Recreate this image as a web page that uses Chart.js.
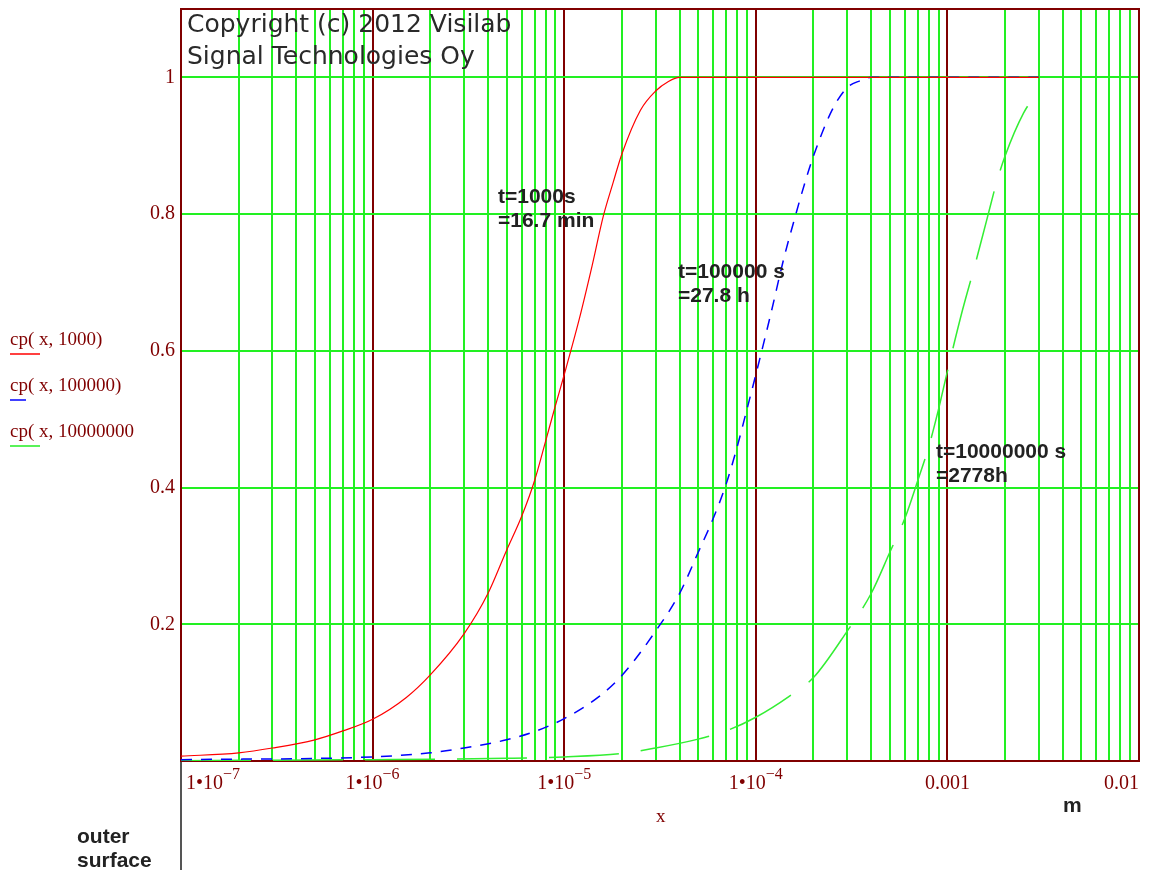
<!DOCTYPE html>
<html>
<head>
<meta charset="utf-8">
<script src="https://cdn.jsdelivr.net/npm/chart.js@4.4.0/dist/chart.umd.min.js"></script>
<style>
html, body { margin: 0; padding: 0; background: #fff; }
#wrap { width: 1150px; height: 870px; position: relative; }
</style>
</head>
<body>
<div id="wrap"><canvas id="mycanvas"></canvas></div>
<script>
// values (x in m, y = cp)
var xRed = [1e-7, 2e-7, 3e-7, 5e-7, 7e-7, 1e-6, 1.5e-6, 2e-6, 3e-6, 4e-6, 5e-6, 6e-6, 7e-6, 8e-6, 9e-6,
            1e-5, 1.2e-5, 1.4e-5, 1.6e-5, 1.8e-5, 2e-5, 2.5e-5, 3e-5, 3.5e-5, 4e-5, 1e-4, 1e-3, 3e-3];
var yRed = [0.007, 0.012, 0.019, 0.031, 0.044, 0.061, 0.093, 0.126, 0.186, 0.245, 0.308, 0.358, 0.410, 0.468, 0.520,
            0.565, 0.647, 0.725, 0.797, 0.846, 0.888, 0.952, 0.980, 0.994, 1.0, 1.0, 1.0, 1.0];

var xBlue = [1e-7, 1e-6, 2e-6, 3e-6, 5e-6, 7e-6, 1e-5, 1.5e-5, 2e-5, 3e-5, 4e-5, 5e-5, 6e-5, 7e-5, 8e-5, 9e-5,
             1e-4, 1.2e-4, 1.4e-4, 1.6e-4, 1.8e-4, 2e-4, 2.5e-4, 3e-4, 3.5e-4, 4e-4, 1e-3, 3e-3];
var yBlue = [0.002, 0.006, 0.012, 0.019, 0.031, 0.043, 0.062, 0.093, 0.125, 0.190, 0.245, 0.305, 0.355, 0.405, 0.460, 0.515,
             0.565, 0.655, 0.735, 0.795, 0.845, 0.885, 0.952, 0.985, 0.995, 1.0, 1.0, 1.0];

var xGreen = [1e-7, 1e-6, 5e-6, 1e-5, 2e-5, 3e-5, 5e-5, 7e-5, 1e-4, 1.5e-4, 2e-4, 3e-4, 4e-4, 5e-4, 6e-4, 7e-4, 8e-4, 9e-4,
              1e-3, 1.2e-3, 1.4e-3, 1.6e-3, 1.8e-3, 2e-3, 2.5e-3, 3e-3];
var yGreen = [0.0005, 0.002, 0.004, 0.006, 0.011, 0.019, 0.032, 0.044, 0.064, 0.095, 0.122, 0.190, 0.245, 0.305, 0.355, 0.410, 0.460, 0.515,
              0.570, 0.660, 0.728, 0.790, 0.845, 0.885, 0.948, 0.981];

var decades = [1e-7, 1e-6, 1e-5, 1e-4, 1e-3, 1e-2];
var decadeBase = ['1\u202210', '1\u202210', '1\u202210', '1\u202210', '0.001', '0.01'];
var decadeSup = ['\u22127', '\u22126', '\u22125', '\u22124', '', ''];
var yTicks = [0, 0.2, 0.4, 0.6, 0.8, 1];

var legendLabels = ['cp( x, 1000)', 'cp( x, 100000)', 'cp( x, 10000000'];
var legendColors = ['#ff0000', '#0000ff', '#22ee22'];

var notes = [
	['t=1000s', '=16.7 min'],
	['t=100000 s', '=27.8 h'],
	['t=10000000 s', '=2778h']
];

var DARKRED = '#800000';
var GRIDGREEN = '#22f022';

function pts(xs, ys) {
	var out = [];
	for (var i in xs) {
		out.push({x: xs[i], y: ys[i]});
	}
	return out;
}

function isDecade(v) {
	var l = Math.log10(v);
	return Math.abs(l - Math.round(l)) < 1e-6;
}

var extras = {
	id: 'extras',
	beforeDatasetsDraw: function(chart) {
		var a = chart.chartArea;
		var ctx = chart.ctx;
		ctx.save();
		ctx.strokeStyle = DARKRED;
		ctx.lineWidth = 2;
		ctx.strokeRect(a.left, a.top, a.right - a.left, a.bottom - a.top);
		ctx.restore();
	},
	afterDraw: function(chart) {
		var ctx = chart.ctx;
		var a = chart.chartArea;
		var xs = chart.scales.x;
		ctx.save();

		// x tick labels with superscript exponents
		ctx.fillStyle = DARKRED;
		ctx.textBaseline = 'alphabetic';
		ctx.textAlign = 'left';
		for (var i = 0; i < decades.length; i++) {
			ctx.font = '20px "Liberation Serif"';
			var w1 = ctx.measureText(decadeBase[i]).width;
			ctx.font = '16px "Liberation Serif"';
			var w2 = decadeSup[i] ? ctx.measureText(decadeSup[i]).width : 0;
			var cx = xs.getPixelForValue(decades[i]);
			var left = cx - (w1 + w2) / 2;
			if (left < a.left + 5) left = a.left + 5;
			if (left + w1 + w2 > a.right) left = a.right - w1 - w2;
			ctx.font = '20px "Liberation Serif"';
			ctx.fillText(decadeBase[i], left, 789);
			if (decadeSup[i]) {
				ctx.font = '16px "Liberation Serif"';
				ctx.fillText(decadeSup[i], left + w1, 779);
			}
		}
		ctx.font = '19px "Liberation Serif"';
		ctx.fillText('x', 656, 822);

		// legend on the left
		for (var j = 0; j < legendLabels.length; j++) {
			var base = [345, 391, 437][j];
			ctx.fillStyle = DARKRED;
			ctx.font = '19px "Liberation Serif"';
			ctx.fillText(legendLabels[j], 10, base);
			ctx.strokeStyle = legendColors[j];
			ctx.lineWidth = 1.5;
			ctx.beginPath();
			ctx.moveTo(10, base + 9);
			ctx.lineTo(j == 1 ? 26 : 40, base + 9);
			ctx.stroke();
		}

		// copyright
		ctx.fillStyle = '#2a2a2a';
		ctx.font = '25px "DejaVu Sans"';
		ctx.fillText('Copyright (c) 2012 Visilab', 187, 32);
		ctx.fillText('Signal Technologies Oy', 187, 64);

		// curve notes
		ctx.fillStyle = '#222';
		ctx.font = 'bold 21px "Liberation Sans"';
		var notePos = [[498, 203], [678, 278], [936, 458]];
		for (var k = 0; k < notes.length; k++) {
			ctx.fillText(notes[k][0], notePos[k][0], notePos[k][1]);
			ctx.fillText(notes[k][1], notePos[k][0], notePos[k][1] + 24);
		}
		ctx.fillText('m', 1063, 812);
		ctx.fillText('outer', 77, 843);
		ctx.fillText('surface', 77, 867);

		// divider under the plot
		ctx.strokeStyle = '#555';
		ctx.lineWidth = 2;
		ctx.beginPath();
		ctx.moveTo(a.left, a.bottom + 1);
		ctx.lineTo(a.left, 870);
		ctx.stroke();
		ctx.restore();
	}
};

var chartdata = {
	datasets: [
		{
			label: legendLabels[0],
			data: pts(xRed, yRed),
			showLine: true,
			borderColor: '#ff0000',
			borderWidth: 1.2,
			pointRadius: 0,
			cubicInterpolationMode: 'monotone'
		},
		{
			label: legendLabels[1],
			data: pts(xBlue, yBlue),
			showLine: true,
			borderColor: '#0000ff',
			borderWidth: 1.5,
			borderDash: [11, 9],
			pointRadius: 0,
			cubicInterpolationMode: 'monotone'
		},
		{
			label: legendLabels[2],
			data: pts(xGreen, yGreen),
			showLine: true,
			borderColor: '#33ee33',
			borderWidth: 1.5,
			borderDash: [70, 22],
			pointRadius: 0,
			cubicInterpolationMode: 'monotone'
		}
	]
};

var ctx = document.getElementById('mycanvas');

var LineGraph = new Chart(ctx, {
	type: 'scatter',
	data: chartdata,
	plugins: [extras],
	options: {
		responsive: true,
		maintainAspectRatio: false,
		animation: false,
		devicePixelRatio: 1,
		layout: { padding: { top: 9, right: 11, left: 0, bottom: 0 } },
		plugins: {
			legend: { display: false },
			tooltip: { enabled: false }
		},
		scales: {
			x: {
				type: 'logarithmic',
				min: 1e-7,
				max: 1e-2,
				bounds: 'data',
				ticks: { display: false },
				afterBuildTicks: function(scale) {
					var t = [];
					for (var i = 0; i < decades.length - 1; i++) {
						for (var m = 1; m <= 9; m++) {
							t.push({value: Number((m * decades[i]).toPrecision(3))});
						}
					}
					t.push({value: decades[decades.length - 1]});
					scale.ticks = t;
				},
				afterFit: function(scale) {
					scale.height = 109;
					scale.paddingLeft = 0;
					scale.paddingRight = 0;
				},
				grid: {
					drawTicks: false,
					lineWidth: 2,
					color: function(c) {
						return (c.tick && isDecade(c.tick.value)) ? DARKRED : GRIDGREEN;
					}
				},
				border: { color: DARKRED, width: 2 }
			},
			y: {
				type: 'linear',
				min: 0,
				max: 1.1,
				bounds: 'data',
				afterBuildTicks: function(scale) {
					scale.ticks = yTicks.map(function(v) { return {value: v}; });
				},
				afterFit: function(scale) {
					scale.width = 181;
					scale.paddingTop = 0;
					scale.paddingBottom = 0;
				},
				ticks: {
					padding: 6,
					color: DARKRED,
					font: { family: 'Liberation Serif', size: 20 },
					autoSkip: false,
					callback: function(v) { return v === 0 ? '' : String(Math.round(v * 10) / 10); }
				},
				grid: {
					drawTicks: false,
					lineWidth: 2,
					color: function(c) {
						return (c.tick && c.tick.value === 0) ? DARKRED : GRIDGREEN;
					}
				},
				border: { color: DARKRED, width: 2 }
			}
		}
	}
});
</script>
</body>
</html>
